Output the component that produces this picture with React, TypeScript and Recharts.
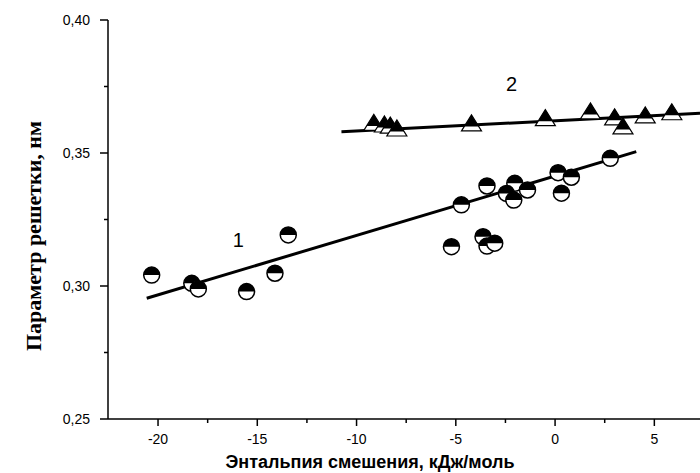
import React from 'react';
import { ScatterChart, Scatter, XAxis, YAxis, ReferenceDot } from 'recharts';

// series 1 - half filled circles (x: kJ/mol, y: nm)
const series1 = [
  [-20.32, 0.3041], [-18.3, 0.301], [-17.97, 0.2989], [-15.54, 0.2979],
  [-14.11, 0.3048], [-13.44, 0.3192], [-5.22, 0.3148], [-4.72, 0.3305],
  [-3.63, 0.3185], [-3.43, 0.315], [-3.04, 0.3161], [-3.43, 0.3376],
  [-2.03, 0.3386], [-2.45, 0.3348], [-2.08, 0.3323], [-1.39, 0.3361],
  [0.15, 0.3426], [0.82, 0.3409], [0.32, 0.3349], [2.78, 0.348],
];

// series 2 - half filled triangles
const series2 = [
  [-9.13, 0.3615], [-8.6, 0.3609], [-8.3, 0.3605], [-7.97, 0.3594],
  [-4.21, 0.3613], [-0.49, 0.3633], [1.78, 0.3658], [3.0, 0.3636],
  [3.42, 0.3602], [4.54, 0.3643], [5.88, 0.3655],
];

// linear fits
const fit1 = [[-20.57, 0.2954], [4.09, 0.3505]];
const fit2 = [[-10.76, 0.358], [7.3, 0.3649]];

const xTicks = [-20, -17.5, -15, -12.5, -10, -7.5, -5, -2.5, 0, 2.5, 5];
const yTicks = [0.25, 0.275, 0.3, 0.325, 0.35, 0.375, 0.4];

const toPts = (arr: number[][]) => arr.map(([x, y]) => ({ x, y }));

const FONT = '"Liberation Sans", Arial, sans-serif';

const XTick = (props: any) => {
  const { x, y, payload } = props;
  const major = Math.abs(payload.value % 5) < 1e-6;
  return (
    <g>
      <line x1={x} y1={y} x2={x} y2={y + (major ? 7 : 4)} stroke="#000" strokeWidth={1.5} />
      {major && (
        <text x={x} y={y + 25} textAnchor="middle" fontSize={14} fontFamily={FONT} fill="#000">
          {payload.value}
        </text>
      )}
    </g>
  );
};

const YTick = (props: any) => {
  const { x, y, payload } = props;
  const v = payload.value;
  const major = Math.abs(v * 20 - Math.round(v * 20)) < 1e-6;
  return (
    <g>
      <line x1={x} y1={y} x2={x - (major ? 8 : 4)} y2={y} stroke="#000" strokeWidth={1.5} />
      {major && (
        <text x={x - 18} y={y + 5} textAnchor="end" fontSize={14} fontFamily={FONT} fill="#000">
          {v.toFixed(2).replace('.', ',')}
        </text>
      )}
    </g>
  );
};

const HalfCircle = (props: any) => {
  const { cx, cy } = props;
  const r = 8;
  return (
    <g>
      <circle cx={cx} cy={cy} r={r} fill="#fff" stroke="#000" strokeWidth={1.5} />
      <path d={`M ${cx - r} ${cy} A ${r} ${r} 0 0 1 ${cx + r} ${cy} Z`} fill="#000" />
    </g>
  );
};

const HalfTriangle = (props: any) => {
  const { cx, cy } = props;
  const h = 16;
  const w = 10;
  const k = 0.72;
  const top = cy - h / 2;
  const bot = cy + h / 2;
  const split = top + h * k;
  return (
    <g>
      <polygon
        points={`${cx},${top} ${cx - w},${bot} ${cx + w},${bot}`}
        fill="#fff"
        stroke="#000"
        strokeWidth={1.2}
      />
      <polygon points={`${cx},${top} ${cx - w * k},${split} ${cx + w * k},${split}`} fill="#000" />
    </g>
  );
};

const NoDot = () => <g />;

const Tag = (text: string) => (props: any) => (
  <text x={props.cx} y={props.cy + 7} textAnchor="middle" fontSize={20} fontFamily={FONT} fill="#000">
    {text}
  </text>
);

export default function App() {
  return (
    <div style={{ position: 'absolute', left: 0, top: 0, background: '#fff' }}>
      <ScatterChart width={700} height={473} margin={{ top: 20, right: 0, bottom: 0, left: 0 }}>
        <XAxis
          dataKey="x"
          type="number"
          domain={[-22.52, 7.3]}
          ticks={xTicks}
          interval={0}
          tickSize={0}
          tickMargin={0}
          tickLine={false}
          tick={<XTick />}
          axisLine={{ stroke: '#000', strokeWidth: 1.5 }}
          height={54}
          allowDataOverflow
          label={{
            content: () => (
              <text x={370} y={468} textAnchor="middle" fontSize={18} fontWeight="bold" fontFamily={FONT} fill="#000">
                Энтальпия смешения, кДж/моль
              </text>
            ),
          }}
        />
        <YAxis
          dataKey="y"
          type="number"
          domain={[0.25, 0.4]}
          ticks={yTicks}
          interval={0}
          tickSize={0}
          tickMargin={0}
          tickLine={false}
          tick={<YTick />}
          axisLine={{ stroke: '#000', strokeWidth: 1.5 }}
          width={108}
          allowDataOverflow
          label={{
            content: () => (
              <text
                x={41}
                y={236}
                transform="rotate(-90 41 236)"
                textAnchor="middle"
                fontSize={22}
                fontWeight="bold"
                fontFamily='"Liberation Serif", "Times New Roman", serif'
                fill="#000"
              >
                Параметр решетки, нм
              </text>
            ),
          }}
        />
        <Scatter data={toPts(fit1)} line={{ stroke: '#000', strokeWidth: 3 }} shape={NoDot} isAnimationActive={false} />
        <Scatter data={toPts(fit2)} line={{ stroke: '#000', strokeWidth: 3 }} shape={NoDot} isAnimationActive={false} />
        <Scatter data={toPts(series1)} shape={HalfCircle} isAnimationActive={false} />
        <Scatter data={toPts(series2)} shape={HalfTriangle} isAnimationActive={false} />
        <ReferenceDot x={-15.95} y={0.3174} r={0} shape={Tag('1')} />
        <ReferenceDot x={-2.19} y={0.3758} r={0} shape={Tag('2')} />
      </ScatterChart>
    </div>
  );
}
